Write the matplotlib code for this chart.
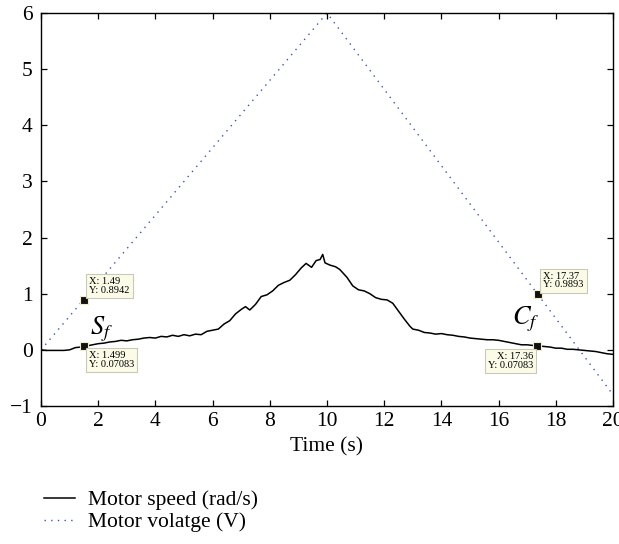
import matplotlib
matplotlib.use("Agg")
import matplotlib.pyplot as plt

plt.rcParams["font.family"] = ["Liberation Serif", "DejaVu Serif"]
plt.rcParams["mathtext.fontset"] = "stix"

# Motor speed (rad/s) over time (s)
speed_time = [0.0, 0.2, 0.4, 0.6, 0.8, 1.0, 1.2, 1.4, 1.5, 1.6, 1.8, 2.0, 2.2, 2.4,
              2.6, 2.8, 3.0, 3.2, 3.4, 3.6, 3.8, 4.0, 4.2, 4.4, 4.6, 4.8, 5.0, 5.2,
              5.4, 5.6, 5.8, 6.0, 6.2, 6.4, 6.6, 6.8, 7.0, 7.15, 7.3, 7.5, 7.7, 7.9,
              8.1, 8.3, 8.5, 8.7, 8.9, 9.1, 9.27, 9.46, 9.62, 9.76, 9.85, 9.93,
              10.1, 10.3, 10.45, 10.7, 10.9, 11.1, 11.3, 11.5, 11.7, 11.9, 12.1,
              12.3, 12.5, 12.7, 12.9, 13.0, 13.2, 13.4, 13.6, 13.8, 14.0, 14.2,
              14.4, 14.6, 14.8, 15.0, 15.2, 15.4, 15.6, 15.8, 16.0, 16.2, 16.4,
              16.6, 16.8, 17.0, 17.36, 17.6, 17.8, 18.0, 18.2, 18.4, 18.6, 18.8,
              19.0, 19.2, 19.4, 19.6, 19.8, 20.0]
speed = [0.00, -0.01, -0.01, -0.01, -0.01, 0.00, 0.04, 0.05, 0.07, 0.07, 0.09,
         0.11, 0.12, 0.14, 0.15, 0.17, 0.16, 0.18, 0.19, 0.21, 0.22, 0.21, 0.24,
         0.23, 0.26, 0.24, 0.27, 0.25, 0.28, 0.27, 0.33, 0.35, 0.37, 0.46, 0.52,
         0.64, 0.72, 0.77, 0.71, 0.81, 0.95, 0.98, 1.05, 1.15, 1.20, 1.24, 1.34,
         1.46, 1.54, 1.47, 1.59, 1.61, 1.70, 1.55, 1.51, 1.48, 1.43, 1.29, 1.14,
         1.07, 1.05, 1.00, 0.93, 0.90, 0.89, 0.83, 0.69, 0.55, 0.42, 0.37, 0.35,
         0.31, 0.30, 0.28, 0.29, 0.27, 0.26, 0.24, 0.23, 0.21, 0.20, 0.19, 0.18,
         0.18, 0.17, 0.15, 0.13, 0.11, 0.09, 0.09, 0.07, 0.06, 0.05, 0.03, 0.03,
         0.01, 0.01, 0.00, -0.01, -0.02, -0.03, -0.05, -0.07, -0.08]

# Motor voltage (V): ramp up then ramp down
voltage_time = [0.0, 10.0, 20.0]
voltage = [0.0, 6.0, -0.8]

# Data cursor readouts
tip_x = [1.49, 1.499, 17.37, 17.36]
tip_y = [0.8942, 0.07083, 0.9893, 0.07083]
tip_text_x = ["1.49", "1.499", "17.37", "17.36"]
tip_text_y = ["0.8942", "0.07083", "0.9893", "0.07083"]
tip_place = ["upper right", "lower right", "upper right", "lower left"]

x_ticks = [0, 2, 4, 6, 8, 10, 12, 14, 16, 18, 20]
y_ticks = [-1, 0, 1, 2, 3, 4, 5, 6]

FS = 15.5

fig = plt.figure(figsize=(6.19, 5.44), dpi=100)
ax = fig.add_axes([41 / 619, 138 / 544, 572 / 619, 393 / 544])

speed_line, = ax.plot(speed_time, speed, color="black", lw=1.1,
                      label="Motor speed (rad/s)")
volt_line, = ax.plot(voltage_time, voltage, color="#3a4fd0", lw=1.0,
                     linestyle=(0, (1, 3.8)), label="Motor volatge (V)")

ax.set_xlim(0, 20)
ax.set_ylim(-1, 6)
ax.set_xticks(x_ticks)
ax.set_yticks(y_ticks)
ax.set_yticklabels(["\u22121" if v < 0 else str(v) for v in y_ticks])
ax.tick_params(direction="in", length=4, width=0.9, labelsize=FS,
               top=True, right=True)
ax.tick_params(axis="x", pad=4)
ax.tick_params(axis="y", pad=6)
for s in ax.spines.values():
    s.set_linewidth(1.0)
ax.set_xlabel("Time (s)", fontsize=FS, labelpad=5)

offsets = {
    "upper right": ((4.0, 3.5), "left", "bottom"),
    "lower right": ((3.7, -3.7), "left", "top"),
    "lower left": ((-3.3, -4.4), "right", "top"),
}
for x, y, tx, ty, place in zip(tip_x, tip_y, tip_text_x, tip_text_y, tip_place):
    ax.plot([x], [y], marker="s", markersize=6, color="#111111",
            markeredgecolor="#f2efc8", markeredgewidth=0.8, zorder=5)
    off, ha, va = offsets[place]
    ax.annotate(f"X: {tx}\nY: {ty}", xy=(x, y), xytext=off,
                textcoords="offset points", ha=ha, va=va, fontsize=7.5,
                linespacing=0.95, zorder=6,
                bbox=dict(boxstyle="square,pad=0.3", facecolor="#fbfbe8",
                          edgecolor="#c9c9b8", linewidth=0.8))

ax.text(2.13, 0.37, "$S_f$", fontsize=19, ha="center", va="center")
ax.text(16.96, 0.55, "$C_f$", fontsize=19, ha="center", va="center")

fig.legend(handles=[speed_line, volt_line], loc="upper left",
           bbox_to_anchor=(44 / 619, 1 - 490 / 544), frameon=False,
           fontsize=FS, handlelength=1.45, handletextpad=0.6,
           labelspacing=0.1, borderpad=0, borderaxespad=0)

fig.savefig("out.png", dpi=100)
